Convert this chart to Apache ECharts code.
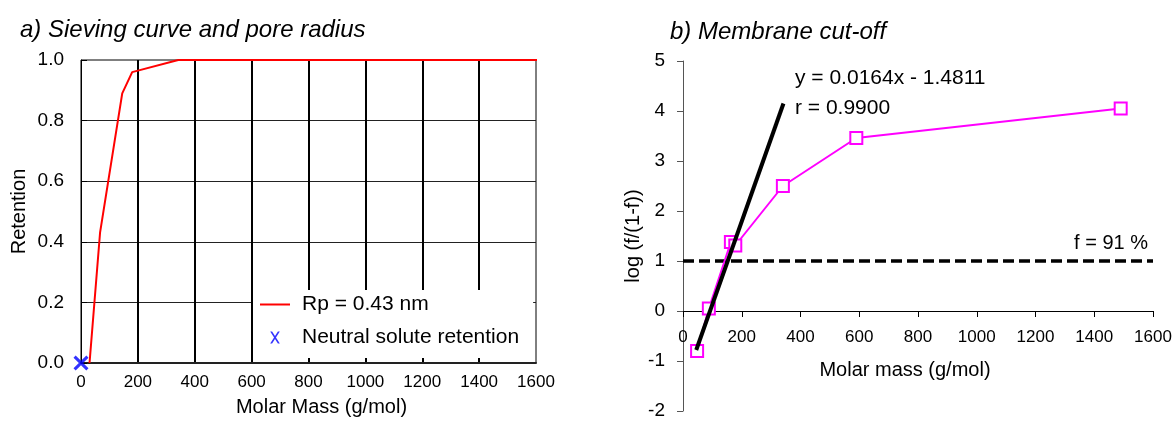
<!DOCTYPE html>
<html>
<head>
<meta charset="utf-8">
<script src="https://cdn.jsdelivr.net/npm/echarts@6/dist/echarts.min.js"></script>
<style>
  html, body { margin: 0; padding: 0; background: #fff; }
  #chart { width: 1172px; height: 421px; }
</style>
</head>
<body>
<div id="chart"></div>
<script>
// ---- Data ----
// a) Sieving curve
const sieveMass = [30, 67, 145, 180, 342, 1640];
const sieveRetention = [0, 0.43, 0.89, 0.96, 1.0, 1.0];
const neutralMass = [0];
const neutralRetention = [0];
const leftXTicks = [0, 200, 400, 600, 800, 1000, 1200, 1400, 1600];
const leftYTicks = [0, 0.2, 0.4, 0.6, 0.8, 1.0];

// b) Membrane cut-off
const cutMass = [48, 88, 163, 178, 340, 590, 1490];
const cutLogF = [-0.8, 0.05, 1.38, 1.31, 2.5, 3.46, 4.05];
const trendMass = [45, 342];
const trendLogF = [-0.78, 4.15];
const cutoffMass = [0, 1600];
const cutoffLogF = [1.0, 1.0];
const rightXTicks = [0, 200, 400, 600, 800, 1000, 1200, 1400, 1600];
const rightYTicks = [-2, -1, 0, 1, 2, 3, 4, 5];

const legendNames = ['Rp = 0.43 nm', 'Neutral solute retention'];
const titles = ['a) Sieving curve and pore radius', 'b) Membrane cut-off'];
const equationText = 'y = 0.0164x - 1.4811';
const rText = 'r = 0.9900';
const cutoffText = 'f = 91 %';

// ---- Helpers ----
const FONT = "'Liberation Sans', Arial, sans-serif";
const pair = (xs, ys) => xs.map((x, i) => [x, ys[i]]);
const xPath = 'path://M0,2 L2,0 L7,5 L12,0 L14,2 L9,7 L14,12 L12,14 L7,9 L2,14 L0,12 L5,7 Z';
const xPathThin = 'path://M0,0 L1.8,0 L4.5,4.3 L7.2,0 L9,0 L5.4,5.6 L9,11.2 L7.2,11.2 L4.5,6.9 L1.8,11.2 L0,11.2 L3.6,5.6 Z';
const linePath = 'path://M0,0 L30,0 L30,2 L0,2 Z';
const plain = v => String(v);

const chart = echarts.init(document.getElementById('chart'));

// y = 0 lies 2 units above the bottom of the right plot (7 units over 350 px)
const rightGridH = 350;
const rightZeroOffset = -rightGridH * (0 - rightYTicks[0]) / (rightYTicks[rightYTicks.length - 1] - rightYTicks[0]);

const option = {
  backgroundColor: '#fff',
  animation: false,
  textStyle: { fontFamily: FONT },
  title: [
    { text: titles[0], left: 15, top: 13,
      textStyle: { fontFamily: FONT, fontSize: 24, fontWeight: 'normal', fontStyle: 'italic', color: '#000' } },
    { text: titles[1], left: 665, top: 15,
      textStyle: { fontFamily: FONT, fontSize: 24, fontWeight: 'normal', fontStyle: 'italic', color: '#000' } }
  ],
  legend: {
    orient: 'vertical',
    left: 253, top: 290,
    backgroundColor: '#fff',
    padding: [4, 14, 10, 7],
    itemWidth: 30, itemHeight: 12, itemGap: 12,
    textStyle: { fontFamily: FONT, fontSize: 21, color: '#000', padding: [0, 0, 0, 7] },
    data: [
      { name: legendNames[0], icon: linePath },
      { name: legendNames[1], icon: xPathThin }
    ]
  },
  grid: [
    { left: 81, top: 60, width: 455, height: 303, show: true, borderColor: '#000', borderWidth: 1,
      backgroundColor: 'transparent', containLabel: false, outerBoundsMode: 'none' },
    { left: 683, top: 61, width: 470, height: rightGridH, containLabel: false, outerBoundsMode: 'none' }
  ],
  xAxis: [
    {
      gridIndex: 0, type: 'value', min: leftXTicks[0], max: leftXTicks[leftXTicks.length - 1], interval: 200,
      axisLine: { show: true, lineStyle: { color: '#222', width: 2 } },
      axisTick: { show: false },
      axisLabel: { fontFamily: FONT, fontSize: 17, color: '#000', margin: 11, formatter: plain },
      splitLine: { show: true, showMinLine: false, showMaxLine: false, lineStyle: { color: '#000', width: 2 } },
      name: 'Molar Mass (g/mol)', nameLocation: 'middle', nameGap: 34,
      nameTextStyle: { fontFamily: FONT, fontSize: 20, color: '#000', padding: [0, 0, 0, 26] }
    },
    {
      gridIndex: 1, type: 'value', min: rightXTicks[0], max: rightXTicks[rightXTicks.length - 1], interval: 200,
      offset: rightZeroOffset,
      axisLine: { show: true, onZero: false, lineStyle: { color: '#000', width: 1 } },
      axisTick: { show: true, length: 6, lineStyle: { color: '#000' } },
      axisLabel: { fontFamily: FONT, fontSize: 17, color: '#000', margin: 18, formatter: plain },
      splitLine: { show: false },
      name: 'Molar mass (g/mol)', nameLocation: 'middle', nameGap: 49,
      nameTextStyle: { fontFamily: FONT, fontSize: 20, color: '#000', padding: [0, 26, 0, 0] }
    }
  ],
  yAxis: [
    {
      gridIndex: 0, type: 'value', min: leftYTicks[0], max: leftYTicks[leftYTicks.length - 1], interval: 0.2,
      axisLine: { show: true, lineStyle: { color: '#000', width: 1 } },
      axisTick: { show: true, inside: true, length: 6, lineStyle: { color: '#000' } },
      axisLabel: { fontFamily: FONT, fontSize: 19, color: '#000', margin: 17, formatter: v => v.toFixed(1) },
      splitLine: { show: true, showMinLine: false, showMaxLine: false, lineStyle: { color: '#222', width: 1 } },
      name: 'Retention', nameLocation: 'middle', nameGap: 52, nameRotate: 90,
      nameTextStyle: { fontFamily: FONT, fontSize: 20, color: '#000' }
    },
    {
      gridIndex: 1, type: 'value', min: rightYTicks[0], max: rightYTicks[rightYTicks.length - 1], interval: 1,
      axisLine: { show: true, onZero: true, lineStyle: { color: '#555', width: 1 } },
      axisTick: { show: true, length: 6, lineStyle: { color: '#555' } },
      axisLabel: { fontFamily: FONT, fontSize: 19, color: '#000', margin: 18, formatter: plain },
      splitLine: { show: false },
      name: 'log (f/(1-f))', nameLocation: 'middle', nameGap: 40, nameRotate: 90,
      nameTextStyle: { fontFamily: FONT, fontSize: 20, color: '#000' }
    }
  ],
  series: [
    {
      name: legendNames[0], type: 'line', xAxisIndex: 0, yAxisIndex: 0,
      data: pair(sieveMass, sieveRetention),
      symbol: 'none', clip: false, z: 3,
      lineStyle: { color: '#ff0000', width: 2 }, itemStyle: { color: '#ff0000' }
    },
    {
      name: legendNames[1], type: 'scatter', xAxisIndex: 0, yAxisIndex: 0,
      data: pair(neutralMass, neutralRetention),
      symbol: xPath, symbolSize: 15, clip: false, z: 5,
      itemStyle: { color: '#0000ff' }
    },
    {
      name: 'cutoff', type: 'line', xAxisIndex: 1, yAxisIndex: 1,
      data: pair(cutoffMass, cutoffLogF),
      symbol: 'none', z: 2,
      lineStyle: { color: '#000', width: 3.5, type: [11, 5] }
    },
    {
      name: 'measured', type: 'line', xAxisIndex: 1, yAxisIndex: 1,
      data: pair(cutMass, cutLogF),
      symbol: 'emptyRect', symbolSize: 12, z: 3,
      lineStyle: { color: '#ff00ff', width: 2 },
      itemStyle: { color: '#ff00ff', borderColor: '#ff00ff', borderWidth: 2 }
    },
    {
      name: 'trend', type: 'line', xAxisIndex: 1, yAxisIndex: 1,
      data: pair(trendMass, trendLogF),
      symbol: 'none', z: 4,
      lineStyle: { color: '#000', width: 4 }
    }
  ],
  graphic: [
    { type: 'text', left: 795, top: 68, style: { text: equationText, font: "21px 'Liberation Sans', Arial, sans-serif", fill: '#000' } },
    { type: 'text', left: 795, top: 98, style: { text: rText, font: "21px 'Liberation Sans', Arial, sans-serif", fill: '#000' } },
    { type: 'text', right: 24, top: 233, style: { text: cutoffText, font: "20px 'Liberation Sans', Arial, sans-serif", fill: '#000' } }
  ]
};

chart.setOption(option);
</script>
</body>
</html>
